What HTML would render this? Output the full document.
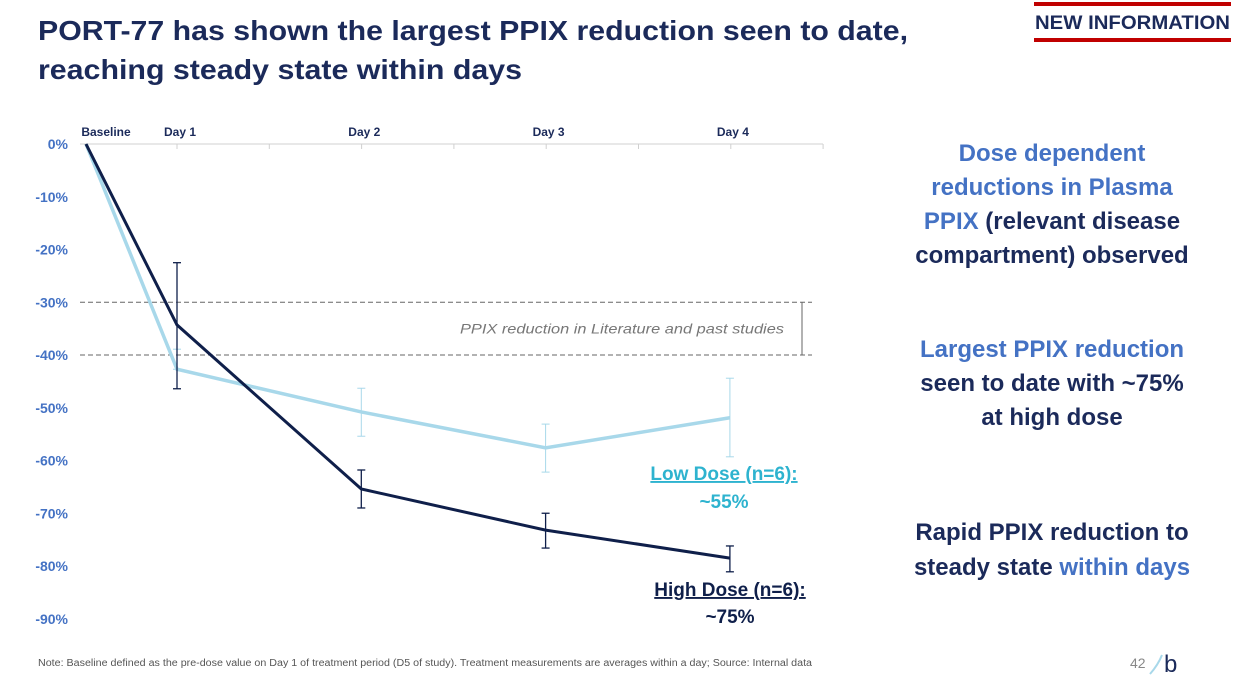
<!DOCTYPE html>
<html><head><meta charset="utf-8"><style>
body{margin:0;background:#fff;font-family:"Liberation Sans",sans-serif;}
#wrap{position:relative;width:1236px;height:690px;overflow:hidden;}
</style></head><body>
<div id="wrap">
<svg id="svg" width="1236" height="690" xmlns="http://www.w3.org/2000/svg" font-family="Liberation Sans, sans-serif">
<text x="38" y="40" font-size="28" font-weight="bold" fill="#1b2a5a" textLength="870" lengthAdjust="spacingAndGlyphs">PORT-77 has shown the largest PPIX reduction seen to date,</text>
<text x="38" y="79" font-size="28" font-weight="bold" fill="#1b2a5a" textLength="484" lengthAdjust="spacingAndGlyphs">reaching steady state within days</text>
<rect x="1034" y="2" width="197" height="4" fill="#c00000"/>
<rect x="1034" y="38" width="197" height="4" fill="#c00000"/>
<text x="1035" y="29" font-size="19" font-weight="bold" fill="#1b2a5a" textLength="195" lengthAdjust="spacingAndGlyphs">NEW INFORMATION</text>
<g id="chart"></g>
<g font-size="24" font-weight="bold" text-anchor="middle">
<text x="1052" y="161" fill="#4472c4">Dose dependent</text>
<text x="1052" y="195" fill="#4472c4">reductions in Plasma</text>
<text x="1052" y="229"><tspan fill="#4472c4">PPIX</tspan><tspan fill="#1b2a5a"> (relevant disease</tspan></text>
<text x="1052" y="263" fill="#1b2a5a">compartment) observed</text>
<text x="1052" y="357" fill="#4472c4">Largest PPIX reduction</text>
<text x="1052" y="391" fill="#1b2a5a">seen to date with ~75%</text>
<text x="1052" y="425" fill="#1b2a5a">at high dose</text>
<text x="1052" y="540" fill="#1b2a5a">Rapid PPIX reduction to</text>
<text x="1052" y="575"><tspan fill="#1b2a5a">steady state </tspan><tspan fill="#4472c4">within days</tspan></text>
</g>
<text x="38" y="666" font-size="10" fill="#555" textLength="774" lengthAdjust="spacingAndGlyphs">Note: Baseline defined as the pre-dose value on Day 1 of treatment period (D5 of study). Treatment measurements are averages within a day; Source: Internal data</text>
<text x="1130" y="668" font-size="14" fill="#888">42</text>
<path d="M1150,674 Q1158,665 1162,655" stroke="#a8d8ea" stroke-width="2" fill="none"/>
<text x="1164" y="672" font-size="24" fill="#1b2a5a">b</text>
</svg>
</div>
<script>
const categories=["Baseline","Day 1","Day 2","Day 3","Day 4"];
const highValues=[0,-34.3,-65.4,-73.2,-78.5];
const highErrLow=[0,-46.4,-69.0,-76.6,-81.1];
const highErrHigh=[0,-22.5,-61.8,-70.0,-76.2];
const lowValues=[0,-42.7,-50.8,-57.6,-51.9];
const lowErrLow=[0,-42.7,-55.4,-62.2,-59.3];
const lowErrHigh=[0,-38.9,-46.3,-53.1,-44.4];
const yTicks=[0,-10,-20,-30,-40,-50,-60,-70,-80,-90];
const litRange=[-30,-40];
const NS="http://www.w3.org/2000/svg";
const g=document.getElementById('chart');
function x(i){return i===0?86:177+(i-1)*184.3;}
function y(v){return 144-v*5.275;}
function mk(t,a,p){const e=document.createElementNS(NS,t);for(const k in a)e.setAttribute(k,a[k]);(p||g).appendChild(e);return e;}
yTicks.forEach(v=>{const t=mk('text',{x:68,y:y(v)+5,'font-size':14,'font-weight':'bold',fill:'#4472c4','text-anchor':'end'});


t.textContent=v+'%';});
const ax=mk('line',{x1:80,y1:144,x2:823,y2:144,stroke:'#d0d0d0','stroke-width':1});


for(let k=0;k<8;k++){const tx=177+k*92.3;const tk=mk('line',{x1:tx,y1:144,x2:tx,y2:149,stroke:'#d0d0d0'});

}
categories.forEach((c,i)=>{const t=mk('text',{x:i===0?106:x(i)+3,y:136,'font-size':12,'font-weight':'bold',fill:'#1b2a5a','text-anchor':'middle'});


t.textContent=c;});
litRange.forEach(v=>{const l=mk('line',{x1:80,y1:y(v),x2:812,y2:y(v),stroke:'#666','stroke-dasharray':'5,3'});

});
const br=mk('line',{x1:802,y1:y(litRange[0]),x2:802,y2:y(litRange[1]),stroke:'#666'});


const lt=mk('text',{x:784,y:(y(litRange[0])+y(litRange[1]))/2+5,'font-size':14,'font-style':'italic',fill:'#777','text-anchor':'end',textLength:324,lengthAdjust:'spacingAndGlyphs'});


lt.textContent='PPIX reduction in Literature and past studies';
function series(vals,lo,hi,col,w,ew,name){
 for(let i=1;i<vals.length;i++){
  const e=mk('line',{x1:x(i),y1:y(hi[i]),x2:x(i),y2:y(lo[i]),stroke:col,'stroke-width':ew});
  
  
  [hi[i],lo[i]].forEach(v=>{const c=mk('line',{x1:x(i)-4,y1:y(v),x2:x(i)+4,y2:y(v),stroke:col,'stroke-width':ew});
  
  });
 }
 const p=mk('polyline',{points:vals.map((v,i)=>x(i)+','+y(v)).join(' '),fill:'none',stroke:col,'stroke-width':w});
 
 
}
series(lowValues,lowErrLow,lowErrHigh,'#a8d8ea',3.5,1,'low-dose');
series(highValues,highErrLow,highErrHigh,'#0f1f4a',3,1.3,'high-dose');
function lbl(txt,xx,yy,col,u,name){const t=mk('text',{x:xx,y:yy,'font-size':19,'font-weight':'bold',fill:col,'text-anchor':'middle','text-decoration':u?'underline':'none'});


t.textContent=txt;}
lbl('Low Dose (n=6):',724,480,'#2eb3cf',true,'low-dose-label');
lbl('~55%',724,508,'#2eb3cf',false,'low-dose-value');
lbl('High Dose (n=6):',730,596,'#0f1f4a',true,'high-dose-label');
lbl('~75%',730,623,'#0f1f4a',false,'high-dose-value');
</script>
</body></html>
